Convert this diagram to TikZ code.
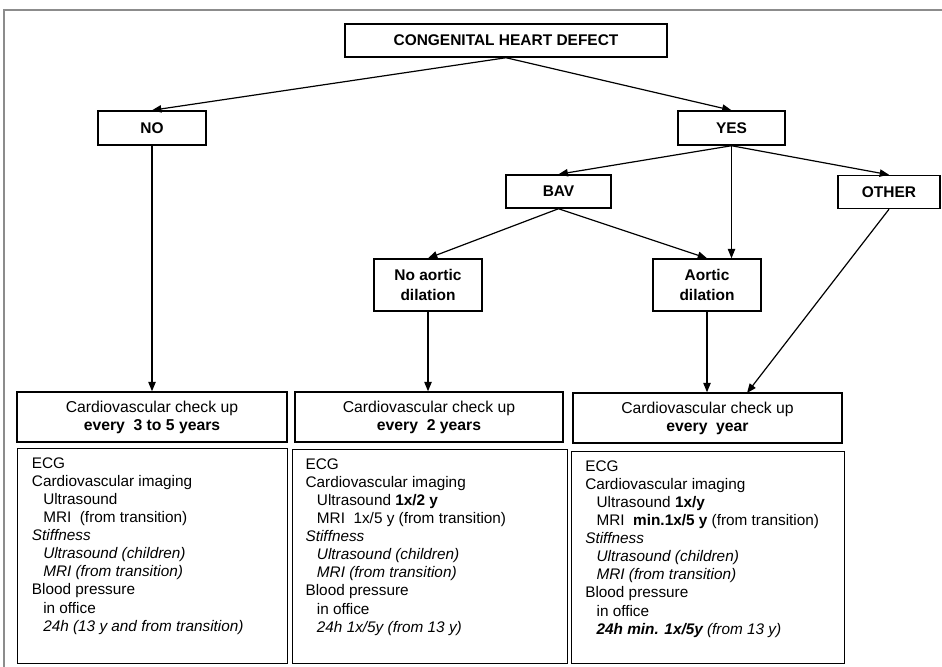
\documentclass[tikz,border=0pt]{standalone}
\usepackage{fontspec}
\setmainfont{Liberation Sans}
\usepackage{tikz}
\usetikzlibrary{positioning, arrows.meta}
\definecolor{framegray}{HTML}{8C8C8C}
\tikzset{
	decbox/.style={
			draw=black,
			line width=1.1pt,
			rectangle,
			inner sep=0pt,
			align=center,
			font=\fontsize{11.6}{15}\selectfont\bfseries
		},
	checkbox/.style={
			draw=black,
			line width=1.1pt,
			rectangle,
			inner sep=0pt,
			align=center,
			minimum height=37.5pt,
			font=\fontsize{11.8}{13.5}\selectfont
		},
	listbox/.style={
			draw=black,
			line width=1.1pt,
			rectangle,
			inner sep=0pt,
			anchor=north west
		},
	listtext/.style={
			inner sep=0pt,
			align=left,
			font=\fontsize{11.5}{13.6}\selectfont
		},
	flow/.style={
			-{Triangle[length=7pt,width=5.5pt]},
			line width=0.9pt
		}
}
\newcommand{\ind}{\hspace*{8.5pt}}

\begin{document}
\begin{tikzpicture}[x=0.75pt, y=-0.75pt]
				\useasboundingbox (0,0) rectangle (942,667);
				\draw[framegray, line width=1.4pt] (4,667) -- (4,10) -- (942,10);

				\node[decbox, minimum width=241.5pt, minimum height=24.75pt] at (506,40.5) (chd) {CONGENITAL HEART DEFECT};
				\node[decbox, minimum width=81pt, minimum height=25.5pt] at (152,128) (no) {NO};
				\node[decbox, minimum width=80.25pt, minimum height=25.5pt] at (731.5,128) (yes) {YES};
				\node[decbox, minimum width=78.75pt, minimum height=24.75pt] at (558.5,191.5) (bav) {BAV};
				\node[decbox, minimum width=76.5pt, minimum height=24.75pt] at (889,192) (other) {OTHER};
				\node[decbox, minimum width=81pt, minimum height=39pt] at (428,285) (noad) {No aortic\\dilation};
				\node[decbox, minimum width=81pt, minimum height=39pt] at (707,285) (ad) {Aortic\\dilation};

				\node[checkbox, minimum width=202.5pt] at (152,417) (chk1) {Cardiovascular check up\\\textbf{every\ \ 3 to 5 years}};
				\node[checkbox, minimum width=201pt] at (429,417) (chk2) {Cardiovascular check up\\\textbf{every\ \ 2 years}};
				\node[checkbox, minimum width=201.75pt] at (707.5,418) (chk3) {Cardiovascular check up\\\textbf{every\ \ year}};
				\coordinate (chk3in) at (747,393);

				\node[listbox, minimum width=202.5pt, minimum height=161.25pt] at (17,448) (list1) {};
				\node[listbox, minimum width=206.25pt, minimum height=160.5pt] at (292,449) (list2) {};
				\node[listbox, minimum width=204.75pt, minimum height=159pt] at (571,451) (list3) {};

				\node[listtext, below right=6.8pt and 11pt of list1.north west] (items1) {ECG\\
					Cardiovascular imaging\\
					\ind Ultrasound\\
					\ind MRI\ \ (from transition)\\
					\textit{Stiffness}\\
					\ind\textit{Ultrasound (children)}\\
					\ind\textit{MRI (from transition)}\\
					Blood pressure\\
					\ind in office\\
					\ind\textit{24h (13 y and from transition)}};
				\node[listtext, below right=6.8pt and 10pt of list2.north west] (items2) {ECG\\
					Cardiovascular imaging\\
					\ind Ultrasound \textbf{1x/2 y}\\
					\ind MRI\ \ 1x/5 y (from transition)\\
					\textit{Stiffness}\\
					\ind\textit{Ultrasound (children)}\\
					\ind\textit{MRI (from transition)}\\
					Blood pressure\\
					\ind in office\\
					\ind\textit{24h 1x/5y (from 13 y)}};
				\node[listtext, below right=6.8pt and 10.5pt of list3.north west] (items3) {ECG\\
					Cardiovascular imaging\\
					\ind Ultrasound \textbf{1x/y}\\
					\ind MRI\ \ \textbf{min.1x/5 y} (from transition)\\
					\textit{Stiffness}\\
					\ind\textit{Ultrasound (children)}\\
					\ind\textit{MRI (from transition)}\\
					Blood pressure\\
					\ind in office\\
					\ind\textit{\textbf{24h min. 1x/5y} (from 13 y)}};

				\draw[flow] (chd.south) -- (no.north);
				\draw[flow] (chd.south) -- (yes.north);
				\draw[flow] (no) -- (chk1);
				\draw[flow] (yes.south) -- (bav.north);
				\draw[flow] (yes.south) -- (yes.south |- ad.north);
				\draw[flow] (yes.south) -- (other.north);
				\draw[flow] (bav.south) -- (noad.north);
				\draw[flow] (bav.south) -- (ad.north);
				\draw[flow] (noad.south) -- (noad.south |- chk2.north);
				\draw[flow] (ad.south) -- (ad.south |- chk3.north);
				\draw[flow] (other.south) -- (chk3in);
			\end{tikzpicture}
\end{document}
